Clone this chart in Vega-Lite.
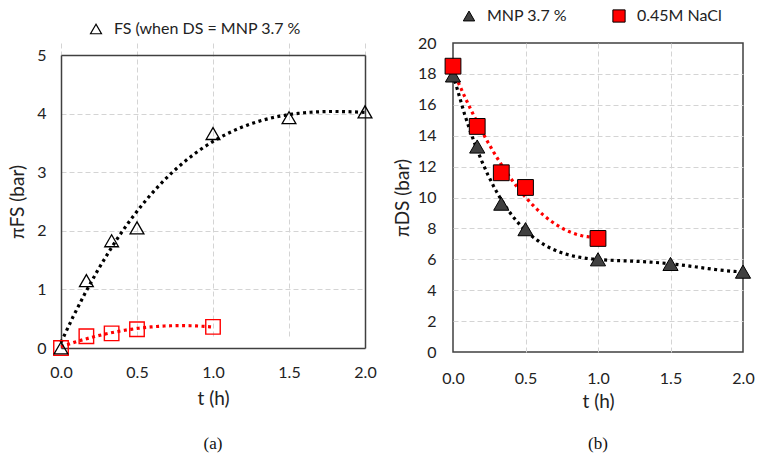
{
  "$schema": "https://vega.github.io/schema/vega-lite/v6.json",
  "background": "white",
  "padding": {"top": 8, "left": 8, "right": 5, "bottom": 5},
  "spacing": 15,
  "config": {
    "font": "Lato",
    "view": {"stroke": "#404040", "strokeWidth": 1.5},
    "axis": {
      "labelFont": "Lato", "labelFontSize": 16, "labelColor": "#222", "labelFlush": false,
      "titleFont": "Lato", "titleFontSize": 19, "titleFontWeight": "normal", "titleColor": "#222",
      "grid": true, "gridColor": "#d4d4d4", "gridDash": [5, 3], "gridWidth": 1,
      "ticks": false, "domain": false, "domainColor": "#404040", "domainWidth": 1.5
    },
    "legend": {"labelFont": "Lato", "labelFontSize": 16, "labelColor": "#222", "labelLimit": 400},
    "title": {"font": "Liberation Serif", "fontSize": 17, "fontWeight": "normal", "color": "#111"}
  },
  "datasets": {
    "a": [
      {"series": "FS (when DS = MNP 3.7 %", "t": 0, "pi": 0},
      {"series": "FS (when DS = MNP 3.7 %", "t": 0.167, "pi": 1.15},
      {"series": "FS (when DS = MNP 3.7 %", "t": 0.333, "pi": 1.83},
      {"series": "FS (when DS = MNP 3.7 %", "t": 0.5, "pi": 2.05},
      {"series": "FS (when DS = MNP 3.7 %", "t": 1.0, "pi": 3.66},
      {"series": "FS (when DS = MNP 3.7 %", "t": 1.5, "pi": 3.93},
      {"series": "FS (when DS = MNP 3.7 %", "t": 2.0, "pi": 4.03},
      {"series": "NaCl", "t": 0, "pi": 0},
      {"series": "NaCl", "t": 0.167, "pi": 0.2},
      {"series": "NaCl", "t": 0.333, "pi": 0.25},
      {"series": "NaCl", "t": 0.5, "pi": 0.32},
      {"series": "NaCl", "t": 1.0, "pi": 0.36}
    ],
    "b": [
      {"series": "MNP 3.7 %", "t": 0, "pi": 17.9},
      {"series": "MNP 3.7 %", "t": 0.167, "pi": 13.3},
      {"series": "MNP 3.7 %", "t": 0.333, "pi": 9.6},
      {"series": "MNP 3.7 %", "t": 0.5, "pi": 7.95},
      {"series": "MNP 3.7 %", "t": 1.0, "pi": 6.0},
      {"series": "MNP 3.7 %", "t": 1.5, "pi": 5.7},
      {"series": "MNP 3.7 %", "t": 2.0, "pi": 5.2},
      {"series": "0.45M NaCl", "t": 0, "pi": 18.5},
      {"series": "0.45M NaCl", "t": 0.167, "pi": 14.6},
      {"series": "0.45M NaCl", "t": 0.333, "pi": 11.6},
      {"series": "0.45M NaCl", "t": 0.5, "pi": 10.65},
      {"series": "0.45M NaCl", "t": 1.0, "pi": 7.35}
    ]
  },
  "hconcat": [
    {
      "width": 304,
      "height": 305,
      "view": {"stroke": null},
      "title": {"text": "(a)", "orient": "bottom", "offset": 28},
      "data": {"name": "a"},
      "resolve": {"axis": {"x": "independent", "y": "independent"}},
      "layer": [
        {
          "transform": [
            {"filter": "datum.series !== 'NaCl'"},
            {"regression": "pi", "on": "t", "method": "poly", "order": 3, "extent": [0, 2]}
          ],
          "mark": {"type": "line", "color": "black", "strokeWidth": 3.2, "strokeDash": [3, 3.5]},
          "encoding": {
            "x": {"field": "t", "type": "quantitative",
                  "scale": {"domain": [0, 2], "nice": false},
                  "axis": {"orient": "bottom", "domain": true, "values": [0, 0.5, 1, 1.5, 2], "format": ".1f", "title": "t (h)", "labelPadding": 16, "titlePadding": 9}},
            "y": {"field": "pi", "type": "quantitative",
                  "scale": {"domain": [0, 5], "nice": false, "range": [305, 12]},
                  "axis": {"orient": "left", "domain": true, "values": [0, 1, 2, 3, 4, 5], "format": "d", "title": "πFS (bar)", "labelPadding": 15, "titlePadding": 9}}
          }
        },
        {
          "transform": [
            {"filter": "datum.series === 'NaCl'"},
            {"regression": "pi", "on": "t", "method": "poly", "order": 2, "extent": [0, 1]}
          ],
          "mark": {"type": "line", "color": "#ff0000", "strokeWidth": 3.2, "strokeDash": [3, 3.5]},
          "encoding": {
            "x": {"field": "t", "type": "quantitative",
                  "axis": {"orient": "top", "offset": -12, "domain": true, "labels": false, "grid": false, "title": null}},
            "y": {"field": "pi", "type": "quantitative",
                  "axis": {"orient": "right", "domain": true, "labels": false, "grid": false, "title": null}}
          }
        },
        {
          "transform": [{"filter": "datum.series === 'NaCl'"}],
          "mark": {"type": "point", "shape": "square", "filled": false, "stroke": "#ff0000", "size": 210, "strokeWidth": 1.4, "opacity": 1},
          "encoding": {
            "x": {"field": "t", "type": "quantitative", "axis": null},
            "y": {"field": "pi", "type": "quantitative", "axis": null}
          }
        },
        {
          "transform": [{"filter": "datum.series !== 'NaCl'"}],
          "mark": {"type": "point", "shape": "triangle-up", "filled": false, "size": 190, "strokeWidth": 1.3, "opacity": 1},
          "encoding": {
            "x": {"field": "t", "type": "quantitative", "axis": null},
            "y": {"field": "pi", "type": "quantitative", "axis": null},
            "stroke": {"field": "series", "type": "nominal",
                       "scale": {"domain": ["FS (when DS = MNP 3.7 %"], "range": ["black"]},
                       "legend": {"orient": "none", "legendX": 27, "legendY": -22, "padding": 0, "title": null, "symbolSize": 120, "symbolStrokeWidth": 1.2, "labelOffset": 10}}
          }
        }
      ]
    },
    {
      "width": 290,
      "height": 309,
      "view": {"stroke": "#404040", "strokeWidth": 1.5},
      "title": {"text": "(b)", "orient": "bottom", "offset": 25},
      "data": {"name": "b"},
      "encoding": {
        "x": {"field": "t", "type": "quantitative",
              "scale": {"domain": [0, 2], "nice": false},
              "axis": {"values": [0, 0.5, 1, 1.5, 2], "format": ".1f", "title": "t (h)", "labelPadding": 18, "titlePadding": 6,
                       "gridColor": {"condition": {"test": "datum.value <= 0 || datum.value >= 2", "value": "transparent"}, "value": "#d4d4d4"}}},
        "y": {"field": "pi", "type": "quantitative",
              "scale": {"domain": [0, 20], "nice": false},
              "axis": {"values": [0, 2, 4, 6, 8, 10, 12, 14, 16, 18, 20], "format": "d", "title": "πDS (bar)", "labelPadding": 17, "titlePadding": 5,
                       "gridColor": {"condition": {"test": "datum.value <= 0 || datum.value >= 20", "value": "transparent"}, "value": "#d4d4d4"}}}
      },
      "layer": [
        {
          "transform": [
            {"filter": "datum.series === 'MNP 3.7 %'"},
            {"regression": "pi", "on": "t", "method": "poly", "order": 4, "extent": [0, 2]}
          ],
          "mark": {"type": "line", "color": "black", "strokeWidth": 3.2, "strokeDash": [3, 3.5]}
        },
        {
          "transform": [
            {"filter": "datum.series === '0.45M NaCl'"},
            {"regression": "pi", "on": "t", "method": "poly", "order": 2, "extent": [0, 1]}
          ],
          "mark": {"type": "line", "color": "#ff0000", "strokeWidth": 3.2, "strokeDash": [3, 3.5]}
        },
        {
          "transform": [{"filter": "datum.series === 'MNP 3.7 %'"}],
          "mark": {"type": "point", "shape": "triangle-up", "filled": true, "stroke": "black", "size": 230, "strokeWidth": 1, "opacity": 1},
          "encoding": {
            "fill": {"field": "series", "type": "nominal",
                     "scale": {"domain": ["MNP 3.7 %"], "range": ["#404040"]},
                     "legend": {"orient": "none", "legendX": 400, "legendY": -35, "padding": 0, "title": null, "symbolSize": 130, "symbolStrokeColor": "black", "symbolStrokeWidth": 1, "labelOffset": 10}}
          }
        },
        {
          "transform": [{"filter": "datum.series === '0.45M NaCl'"}],
          "mark": {"type": "point", "shape": "square", "filled": true, "stroke": "black", "size": 250, "strokeWidth": 1, "opacity": 1},
          "encoding": {
            "color": {"field": "series", "type": "nominal",
                      "scale": {"domain": ["0.45M NaCl"], "range": ["#ff0000"]},
                      "legend": {"orient": "none", "legendX": 550, "legendY": -35, "padding": 0, "title": null, "symbolSize": 150, "symbolStrokeColor": "black", "symbolStrokeWidth": 1, "labelOffset": 10}}
          }
        }
      ]
    }
  ]
}
